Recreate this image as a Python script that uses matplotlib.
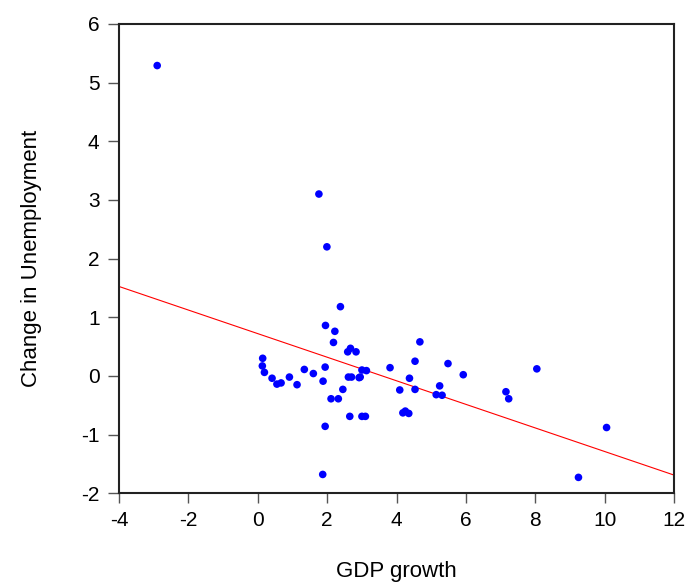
import matplotlib
matplotlib.use("Agg")
import matplotlib.pyplot as plt
import numpy as np

plt.rcParams['font.family'] = ['Liberation Sans', 'DejaVu Sans']
plt.rcParams['axes.unicode_minus'] = False

# точки (GDP growth, change in unemployment)
gdp = [-2.90, 1.76, 1.99, 2.38, 1.95, 2.22, 2.18, 2.59, 2.67, 2.83,
       0.14, 0.13, 0.19, 0.41, 0.55, 0.67, 0.91, 1.13, 1.34, 1.60,
       1.94, 1.88, 2.11, 2.32, 2.45, 2.61, 2.70, 2.92, 3.00, 3.13,
       2.95, 2.65, 3.00, 3.10, 1.94, 1.87,
       4.67, 4.53, 3.81, 5.48, 8.04, 5.92, 4.37, 4.09, 4.53, 5.24,
       5.14, 5.31, 7.15, 7.23, 4.18, 4.25, 4.35, 10.05, 9.24]
unemp = [5.29, 3.10, 2.20, 1.18, 0.86, 0.76, 0.57, 0.41, 0.47, 0.41,
         0.30, 0.17, 0.06, -0.04, -0.14, -0.12, -0.02, -0.15, 0.11, 0.04,
         0.15, -0.09, -0.39, -0.39, -0.23, -0.02, -0.02, -0.03, 0.10, 0.09,
         -0.02, -0.69, -0.69, -0.69, -0.86, -1.68,
         0.58, 0.25, 0.14, 0.21, 0.12, 0.02, -0.04, -0.24, -0.23, -0.17,
         -0.32, -0.33, -0.27, -0.39, -0.63, -0.60, -0.64, -0.88, -1.73]

# линия регрессии
intercept = 0.72
slope = -0.201

fig = plt.figure(figsize=(6.88, 5.83), dpi=100)
ax = fig.add_axes([0.173, 0.154, 0.807, 0.805])

xl = np.array([-4, 12])
ax.plot(xl, intercept + slope * xl, color='red', linewidth=0.8, zorder=2)
ax.scatter(gdp, unemp, s=30, color='#0000ff', edgecolors='none', zorder=3)

ax.set_xlim(-4, 12)
ax.set_ylim(-2, 6)
ax.set_xticks(range(-4, 13, 2))
ax.set_yticks(range(-2, 7))
ax.tick_params(axis='x', direction='out', length=7, width=1, color='#555555', labelsize=15, pad=6)
ax.tick_params(axis='y', direction='out', length=8, width=1, color='#555555', labelsize=15, pad=6)
for s in ax.spines.values():
    s.set_linewidth(1.5)
    s.set_color('#222222')

ax.set_xlabel("GDP growth", fontsize=16, labelpad=22)
ax.set_ylabel("Change in Unemployment", fontsize=16, labelpad=28)

fig.savefig("out.png", dpi=100)
